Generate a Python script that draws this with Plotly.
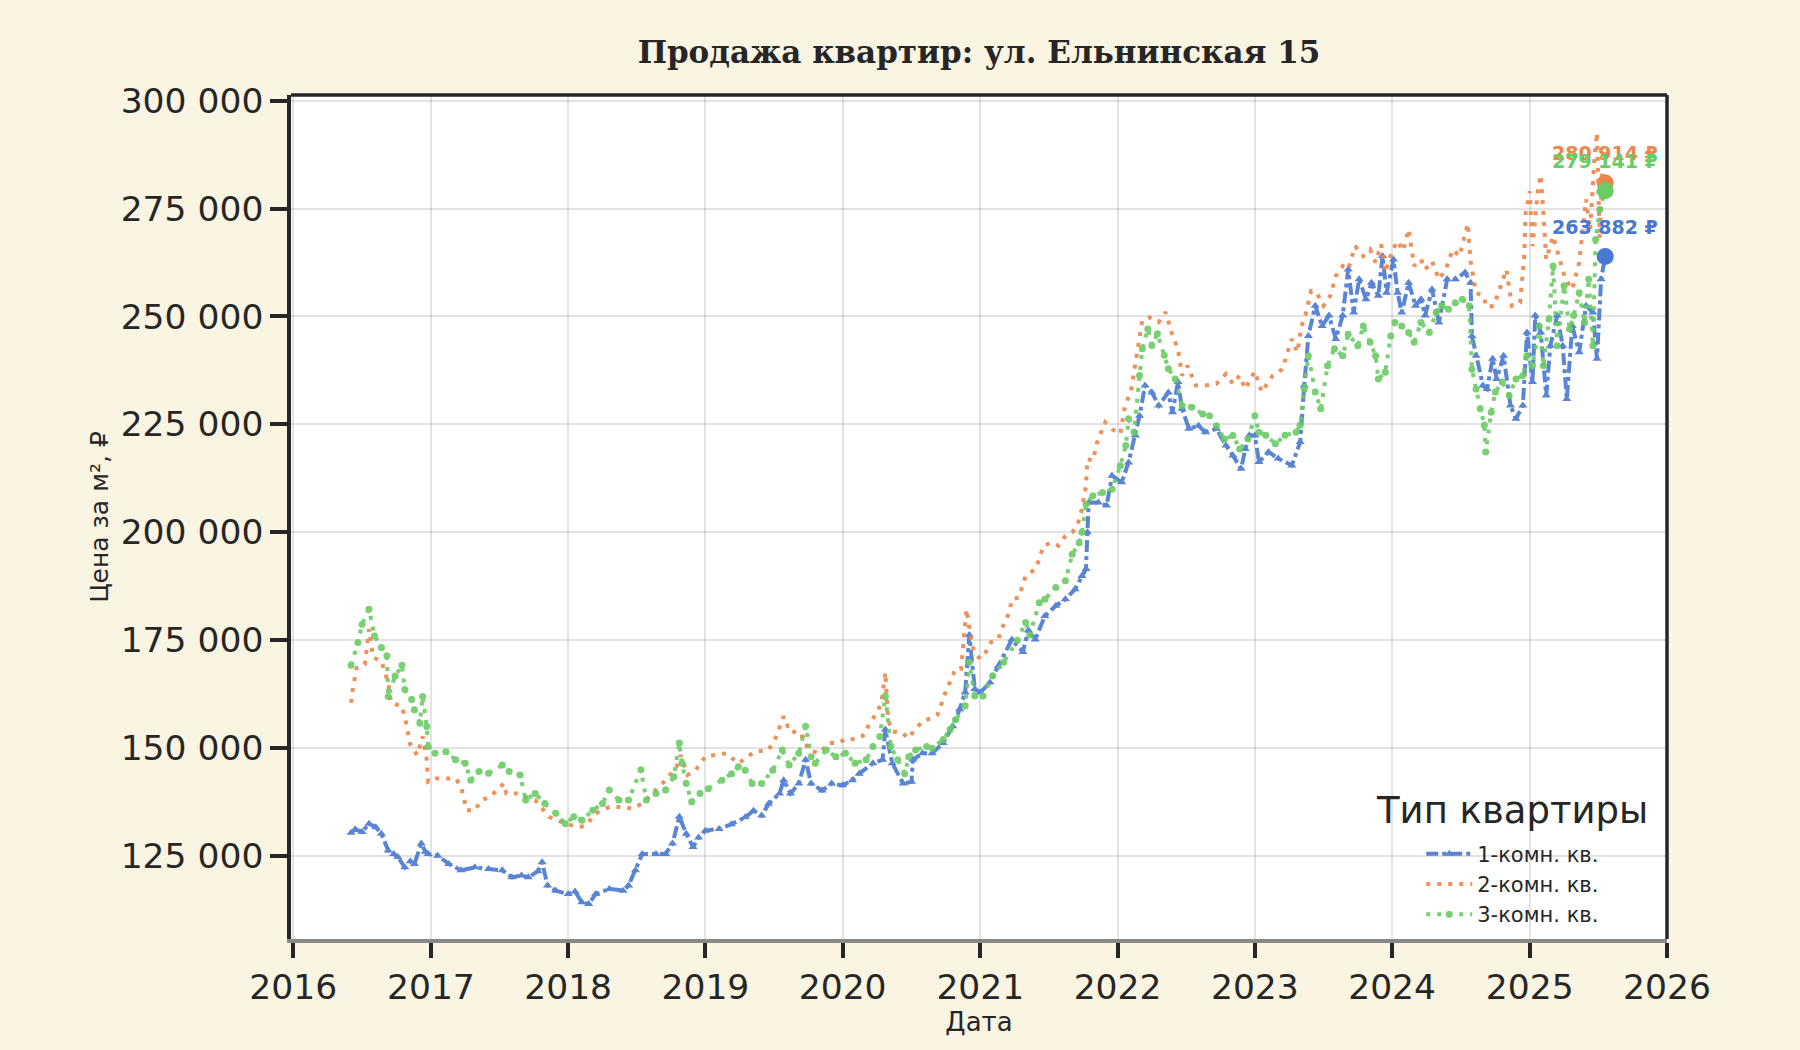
import datetime as dt
import plotly.graph_objects as go

# ---------------- data ----------------
# decimal-year positions and price per m2 (RUB)
t_1k = [2016.42, 2016.45, 2016.50, 2016.55, 2016.60, 2016.64, 2016.69, 2016.73, 2016.76, 2016.81,
        2016.85, 2016.88, 2016.93, 2016.96, 2016.98, 2017.05, 2017.13, 2017.22, 2017.32, 2017.42,
        2017.52, 2017.59, 2017.66, 2017.71, 2017.78, 2017.81, 2017.85, 2017.91, 2018.00, 2018.05,
        2018.10, 2018.15, 2018.20, 2018.30, 2018.40, 2018.44, 2018.49, 2018.54, 2018.64, 2018.71,
        2018.76, 2018.81, 2018.86, 2018.91, 2018.95, 2019.00, 2019.10, 2019.19, 2019.29, 2019.35,
        2019.41, 2019.46, 2019.54, 2019.57, 2019.62, 2019.68, 2019.73, 2019.77, 2019.85, 2019.92,
        2020.00, 2020.07, 2020.12, 2020.22, 2020.29, 2020.31, 2020.36, 2020.44, 2020.50, 2020.51,
        2020.58, 2020.65, 2020.73, 2020.80, 2020.85, 2020.89, 2020.92, 2020.96, 2021.00, 2021.07,
        2021.13, 2021.23, 2021.31, 2021.35, 2021.40, 2021.47, 2021.55, 2021.62, 2021.69, 2021.74,
        2021.77, 2021.78, 2021.79, 2021.86, 2021.92, 2021.96, 2022.03, 2022.08, 2022.13, 2022.16,
        2022.20, 2022.25, 2022.30, 2022.37, 2022.40, 2022.44, 2022.47, 2022.52, 2022.59, 2022.64,
        2022.72, 2022.79, 2022.84, 2022.90, 2022.93, 2022.96, 2023.00, 2023.03, 2023.10, 2023.17,
        2023.27, 2023.33, 2023.36, 2023.39, 2023.44, 2023.49, 2023.54, 2023.59, 2023.64, 2023.68,
        2023.72, 2023.76, 2023.81, 2023.85, 2023.90, 2023.93, 2023.96, 2024.01, 2024.04, 2024.07,
        2024.12, 2024.17, 2024.21, 2024.24, 2024.29, 2024.34, 2024.40, 2024.46, 2024.53, 2024.57,
        2024.58, 2024.61, 2024.66, 2024.69, 2024.73, 2024.76, 2024.81, 2024.86, 2024.90, 2024.95,
        2024.98, 2025.02, 2025.04, 2025.08, 2025.12, 2025.15, 2025.20, 2025.24, 2025.27, 2025.31,
        2025.36, 2025.41, 2025.46, 2025.49, 2025.52, 2025.55]
v_1k = [130400, 131200, 130600, 132500, 131700, 130200, 126300, 125500, 124800, 122400,
        123800, 123200, 127900, 126000, 125500, 125100, 123200, 121700, 122400, 122000,
        121700, 120100, 120500, 120100, 121500, 123600, 118200, 117000, 116200, 116800,
        114300, 113900, 116200, 117400, 117000, 118200, 121700, 125500, 125500, 125500,
        127900, 134100, 130200, 127100, 129300, 130900, 131300, 132400, 134000, 135500,
        134400, 137100, 139500, 142600, 139500, 141800, 147300, 141800, 140200, 141800,
        141400, 142600, 144100, 146500, 147300, 154300, 146500, 141800, 142200, 147300,
        148800, 148800, 151200, 155100, 159000, 162900, 176200, 163700, 162900, 165200,
        169000, 175200, 172300, 177300, 175200, 180600, 183000, 184500, 186800, 189900,
        191500, 200000, 206900, 206900, 206200, 213100, 211600, 216200, 222400, 227000,
        234000, 232400, 229400, 232400, 227800, 234800, 228600, 224000, 224700, 223200,
        224000, 220100, 217800, 214700, 219300, 222500, 222400, 216300, 218600, 217100,
        215500, 220900, 234000, 245500, 252500, 247800, 250200, 244800, 250200, 260900,
        250900, 258600, 254000, 257800, 254800, 264000, 255500, 263200, 255500, 250900,
        257800, 252500, 254000, 250200, 256300, 248600, 258600, 258600, 260200, 257800,
        245500, 240900, 234000, 233200, 240200, 235500, 240900, 229400, 226300, 229400,
        246300, 234800, 250200, 246300, 231700, 243200, 250200, 243200, 230900, 247800,
        241700, 252500, 250900, 240200, 258600, 263882]

t_2k = [2016.42, 2016.43, 2016.46, 2016.52, 2016.55, 2016.58, 2016.64, 2016.69, 2016.71, 2016.79,
        2016.82, 2016.85, 2016.90, 2016.94, 2016.97, 2016.98, 2017.04, 2017.11, 2017.18, 2017.22,
        2017.24, 2017.26, 2017.32, 2017.37, 2017.43, 2017.48, 2017.53, 2017.55, 2017.63, 2017.69,
        2017.76, 2017.86, 2017.93, 2017.98, 2018.08, 2018.13, 2018.20, 2018.30, 2018.40, 2018.47,
        2018.54, 2018.61, 2018.71, 2018.79, 2018.82, 2018.87, 2018.93, 2019.00, 2019.15, 2019.24,
        2019.36, 2019.46, 2019.51, 2019.57, 2019.60, 2019.63, 2019.66, 2019.71, 2019.75, 2019.83,
        2019.90, 2019.97, 2020.03, 2020.09, 2020.16, 2020.19, 2020.24, 2020.28, 2020.31, 2020.33,
        2020.36, 2020.44, 2020.47, 2020.53, 2020.58, 2020.65, 2020.69, 2020.72, 2020.75, 2020.79,
        2020.82, 2020.86, 2020.90, 2020.94, 2020.97, 2021.00, 2021.04, 2021.08, 2021.13, 2021.16,
        2021.21, 2021.23, 2021.28, 2021.33, 2021.40, 2021.43, 2021.46, 2021.52, 2021.57, 2021.62,
        2021.67, 2021.71, 2021.74, 2021.77, 2021.78, 2021.82, 2021.85, 2021.91, 2021.96, 2022.02,
        2022.05, 2022.10, 2022.14, 2022.18, 2022.23, 2022.30, 2022.35, 2022.40, 2022.44, 2022.47,
        2022.51, 2022.57, 2022.64, 2022.72, 2022.79, 2022.84, 2022.89, 2022.93, 2023.00, 2023.05,
        2023.13, 2023.20, 2023.27, 2023.31, 2023.34, 2023.37, 2023.41, 2023.45, 2023.50, 2023.55,
        2023.59, 2023.64, 2023.68, 2023.73, 2023.79, 2023.84, 2023.88, 2023.92, 2023.95, 2024.00,
        2024.04, 2024.08, 2024.12, 2024.16, 2024.21, 2024.24, 2024.29, 2024.34, 2024.39, 2024.44,
        2024.49, 2024.52, 2024.55, 2024.57, 2024.61, 2024.66, 2024.69, 2024.74, 2024.78, 2024.83,
        2024.87, 2024.93, 2024.96, 2024.97, 2025.00, 2025.02, 2025.06, 2025.08, 2025.10, 2025.12,
        2025.17, 2025.21, 2025.26, 2025.31, 2025.36, 2025.41, 2025.44, 2025.47, 2025.49, 2025.51,
        2025.53, 2025.55]
v_2k = [160500, 163200, 168600, 169400, 177600, 171000, 170200, 165100, 160500, 159700,
        155800, 150800, 148400, 152700, 147300, 142200, 143000, 143000, 143000, 141100,
        138400, 135600, 135600, 138000, 138700, 140300, 141800, 139500, 139500, 138700,
        138000, 134100, 133300, 132500, 131700, 132100, 134900, 136400, 136400, 136000,
        137200, 139500, 142600, 145700, 148400, 143800, 145000, 148100, 148800, 146500,
        149200, 149600, 152300, 157400, 155100, 155100, 152700, 152700, 149600, 148800,
        151200, 151200, 152300, 152000, 153100, 155500, 157800, 160200, 167600, 156600,
        153900, 153500, 152300, 154300, 156300, 157000, 157800, 160500, 163300, 166000,
        168400, 168400, 182200, 173700, 171500, 170700, 172300, 174600, 175200, 177900,
        181400, 184500, 184900, 189900, 191500, 193800, 196900, 197600, 196900, 199200,
        200000, 201900, 205400, 210800, 217000, 216600, 220800, 225500, 223900, 222800,
        228600, 233200, 241000, 249100, 249800, 248700, 251000, 245600, 242500, 236300,
        238600, 234000, 234000, 234400, 236700, 234400, 236300, 233200, 237300, 232500,
        236300, 237800, 244800, 241700, 247800, 250500, 255900, 255500, 252500, 254800,
        259400, 261700, 260900, 266300, 264000, 265500, 262500, 266700, 260200, 265200,
        267500, 265200, 270200, 261700, 263200, 260900, 262800, 258600, 260900, 265500,
        264000, 267800, 271500, 262800, 255500, 254800, 252100, 252500, 256300, 260900,
        252500, 253200, 264000, 274000, 279000, 266300, 279400, 282800, 274000, 263200,
        268600, 264000, 258600, 256300, 262500, 277100, 270000, 286000, 292600, 268000,
        285000, 280914]

t_3k = [2016.42, 2016.47, 2016.50, 2016.55, 2016.59, 2016.64, 2016.68, 2016.69, 2016.74, 2016.79,
        2016.81, 2016.86, 2016.88, 2016.92, 2016.94, 2016.97, 2016.98, 2017.03, 2017.11, 2017.18,
        2017.25, 2017.29, 2017.35, 2017.42, 2017.52, 2017.57, 2017.65, 2017.69, 2017.76, 2017.83,
        2017.91, 2017.98, 2018.04, 2018.10, 2018.18, 2018.25, 2018.30, 2018.37, 2018.44, 2018.53,
        2018.57, 2018.64, 2018.71, 2018.77, 2018.81, 2018.83, 2018.86, 2018.90, 2018.96, 2019.02,
        2019.12, 2019.19, 2019.24, 2019.29, 2019.34, 2019.41, 2019.49, 2019.56, 2019.61, 2019.68,
        2019.73, 2019.77, 2019.80, 2019.88, 2019.95, 2020.02, 2020.09, 2020.17, 2020.22, 2020.27,
        2020.31, 2020.35, 2020.40, 2020.45, 2020.48, 2020.53, 2020.61, 2020.65, 2020.73, 2020.78,
        2020.82, 2020.89, 2020.92, 2020.96, 2021.02, 2021.09, 2021.17, 2021.27, 2021.33, 2021.36,
        2021.43, 2021.47, 2021.55, 2021.62, 2021.67, 2021.72, 2021.74, 2021.77, 2021.82, 2021.89,
        2021.96, 2022.02, 2022.06, 2022.08, 2022.12, 2022.16, 2022.18, 2022.22, 2022.25, 2022.29,
        2022.34, 2022.37, 2022.42, 2022.47, 2022.54, 2022.62, 2022.67, 2022.72, 2022.78, 2022.84,
        2022.89, 2022.95, 2023.00, 2023.03, 2023.08, 2023.15, 2023.22, 2023.30, 2023.33, 2023.36,
        2023.39, 2023.44, 2023.48, 2023.53, 2023.58, 2023.64, 2023.68, 2023.75, 2023.79, 2023.84,
        2023.88, 2023.90, 2023.95, 2023.99, 2024.02, 2024.07, 2024.12, 2024.16, 2024.21, 2024.27,
        2024.32, 2024.36, 2024.41, 2024.46, 2024.51, 2024.56, 2024.58, 2024.61, 2024.64, 2024.67,
        2024.68, 2024.72, 2024.75, 2024.80, 2024.85, 2024.90, 2024.95, 2024.98, 2025.02, 2025.07,
        2025.10, 2025.14, 2025.17, 2025.20, 2025.25, 2025.29, 2025.32, 2025.36, 2025.40, 2025.43,
        2025.46, 2025.48, 2025.51, 2025.55]
v_3k = [169200, 174500, 178700, 182200, 176000, 173300, 171400, 162000, 166700, 169200,
        163600, 161300, 158900, 155800, 162000, 155000, 150400, 148800, 149200, 147300,
        146500, 142600, 144600, 144200, 146100, 144600, 143800, 138000, 139500, 137200,
        134900, 132500, 134100, 133300, 135600, 137200, 140300, 138000, 138000, 145000,
        138000, 139500, 140300, 143400, 151200, 146500, 141800, 137600, 139500, 140600,
        142600, 144100, 145700, 144900, 141800, 141800, 144900, 149600, 146100, 148800,
        155100, 148000, 146500, 149600, 148000, 148800, 146500, 147300, 150400, 152700,
        162100, 150400, 147300, 144100, 148000, 149600, 150400, 150000, 152000, 154300,
        156600, 159800, 169900, 162100, 162100, 166800, 169900, 175000, 179100, 176200,
        183700, 184500, 187200, 188800, 194900, 197600, 200000, 206500, 208500, 209200,
        210000, 215400, 220100, 226300, 223200, 236300, 242500, 247100, 243300, 246000,
        241000, 237900, 235500, 229400, 229000, 227400, 227000, 224700, 221600, 222400,
        219300, 221600, 227000, 223200, 222500, 220500, 222500, 223200, 224800, 233200,
        240900, 232500, 228600, 238600, 242500, 240900, 245900, 243200, 247800, 244000,
        240900, 235500, 237100, 245500, 248600, 247800, 246300, 244000, 248600, 246300,
        250900, 252500, 251700, 253200, 254000, 252500, 237800, 233200, 228600, 224800,
        218600, 227800, 232500, 234800, 231700, 235500, 236300, 240900, 238600, 247800,
        238600, 249400, 261700, 243200, 257100, 247100, 250200, 255500, 248600, 258600,
        243200, 267800, 274800, 279141]

series_names = ["1-комн. кв.", "2-комн. кв.", "3-комн. кв."]
end_labels = ["263 882 ₽", "280 914 ₽", "279 141 ₽"]
y_tick_vals = [125000, 150000, 175000, 200000, 225000, 250000, 275000, 300000]
y_tick_text = ["125 000", "150 000", "175 000", "200 000", "225 000", "250 000", "275 000", "300 000"]
x_tick_years = [2016, 2017, 2018, 2019, 2020, 2021, 2022, 2023, 2024, 2025, 2026]

# ---------------- helpers ----------------
def to_date(t):
    y = int(t)
    start = dt.datetime(y, 1, 1)
    days = (dt.datetime(y + 1, 1, 1) - start).days
    return start + dt.timedelta(days=(t - y) * days)

BLUE, ORANGE, GREEN = "#4878D0", "#EE854A", "#6ACC64"
FONT = "DejaVu Sans"
TXT = "#262626"
BG = "#FAF4E2"

fig = go.Figure()

fig.add_trace(go.Scatter(
    x=[to_date(t) for t in t_1k], y=v_1k, name=series_names[0], mode="lines+markers",
    line=dict(color=BLUE, width=4, dash="dashdot"),
    marker=dict(symbol="triangle-up", size=8, color=BLUE), opacity=0.9))
fig.add_trace(go.Scatter(
    x=[to_date(t) for t in t_2k], y=v_2k, name=series_names[1], mode="lines",
    line=dict(color=ORANGE, width=4, dash="4px,7px"), opacity=0.9))
fig.add_trace(go.Scatter(
    x=[to_date(t) for t in t_3k], y=v_3k, name=series_names[2], mode="lines+markers",
    line=dict(color=GREEN, width=4, dash="4px,7px"),
    marker=dict(symbol="circle", size=7, color=GREEN), opacity=0.9))

# end points + labels
ends = [(t_1k[-1], v_1k[-1], BLUE, end_labels[0]),
        (t_2k[-1], v_2k[-1], ORANGE, end_labels[1]),
        (t_3k[-1], v_3k[-1], GREEN, end_labels[2])]
for t, v, c, lab in ends:
    fig.add_trace(go.Scatter(x=[to_date(t)], y=[v], mode="markers", showlegend=False,
                             marker=dict(size=17, color=c)))
    fig.add_annotation(x=to_date(t), y=v, text=lab, showarrow=False, yshift=30,
                       font=dict(family=FONT, size=19, color=c, weight="bold"))

# legend title as annotation
fig.add_annotation(xref="paper", yref="paper", x=0.8874, y=0.152, text="Тип квартиры",
                   showarrow=False, xanchor="center", yanchor="middle",
                   font=dict(family=FONT, size=37, color=TXT))

# top and right spines
fig.add_shape(type="line", xref="paper", yref="paper", x0=0, x1=1, y0=1, y1=1,
              line=dict(color="#262626", width=3.5))
fig.add_shape(type="line", xref="paper", yref="paper", x0=1, x1=1, y0=0, y1=1,
              line=dict(color="#262626", width=3.5))

fig.update_layout(
    width=1800, height=1050,
    paper_bgcolor=BG, plot_bgcolor="#FFFFFF",
    margin=dict(l=291, r=133, t=95, b=111),
    font=dict(family=FONT, color=TXT),
    title=dict(text="<b>Продажа квартир: ул. Ельнинская 15</b>", x=0.5, xref="paper",
               y=1 - 52 / 1050, yref="container", yanchor="middle", xanchor="center",
               font=dict(family="DejaVu Serif", size=31, color=TXT)),
    showlegend=True,
    legend=dict(x=0.8214, y=0.125, xanchor="left", yanchor="top", bgcolor="rgba(0,0,0,0)",
                font=dict(family=FONT, size=21, color=TXT), itemwidth=46,
                tracegroupgap=0),
)

fig.update_xaxes(
    type="date",
    range=[dt.datetime(2015, 12, 26), dt.datetime(2026, 1, 1)],
    tickvals=[dt.datetime(y, 1, 1) for y in x_tick_years],
    ticktext=[str(y) for y in x_tick_years],
    tickfont=dict(family=FONT, size=34.5, color=TXT),
    ticks="outside", ticklen=15, tickwidth=3.5, tickcolor="#262626",
    showline=True, linecolor="#888888", linewidth=3.5,
    showgrid=True, gridcolor="rgba(0,0,0,0.11)", gridwidth=2,
    zeroline=False,
    title=dict(text="Дата", font=dict(family=FONT, size=26, color=TXT), standoff=8),
)
fig.update_yaxes(
    range=[105800, 301300],
    tickvals=y_tick_vals, ticktext=y_tick_text,
    tickfont=dict(family=FONT, size=34.5, color=TXT),
    ticks="outside", ticklen=17, tickwidth=3.5, tickcolor="#262626",
    showline=True, linecolor="#262626", linewidth=3.5,
    showgrid=True, gridcolor="rgba(0,0,0,0.11)", gridwidth=2,
    zeroline=False,
    title=dict(text="Цена за м², ₽", font=dict(family=FONT, size=25, color=TXT), standoff=6),
)

fig.write_html("out.html",
               config={"displayModeBar": False},
               post_script="document.body.style.margin='0';"
                           "document.body.style.background='" + BG + "';")
